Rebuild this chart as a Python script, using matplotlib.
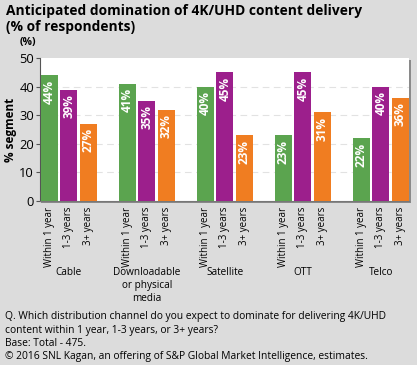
import numpy as np
import matplotlib.pyplot as plt
from matplotlib.patches import Rectangle
from matplotlib.transforms import blended_transform_factory

channels = ['Cable', 'Downloadable\nor physical\nmedia', 'Satellite', 'OTT', 'Telco']
periods = ['Within 1 year', '1-3 years', '3+ years']
within1 = [44, 41, 40, 23, 22]
years13 = [39, 35, 45, 45, 40]
years3p = [27, 32, 23, 31, 36]
colors = ['#5ba44f', '#9c1f8c', '#f07d21']
yticks = [0, 10, 20, 30, 40, 50]

bg = '#dcdcdc'
plt.rcParams['font.family'] = ['Open Sans', 'DejaVu Sans']

fig = plt.figure(figsize=(4.17, 3.65), dpi=100, facecolor=bg)
ax = fig.add_axes([0.095, 0.449, 0.886, 0.392], zorder=1)
ax.set_facecolor('white')

# shadow behind plot area
fig.patches.append(Rectangle((0.095 + 0.004, 0.449 - 0.006), 0.886, 0.392,
                             transform=fig.transFigure, facecolor='#8a8a8a',
                             edgecolor='none', zorder=-1))

series = [within1, years13, years3p]
xpos = []
xlab = []
for i in range(len(channels)):
    for j, vals in enumerate(series):
        x = i * 4 + j
        v = vals[i]
        ax.bar(x, v, width=0.86, color=colors[j], zorder=3)
        ax.text(x, v - 1.5, '%i%%' % v, rotation=90, ha='center', va='top',
                color='white', fontsize=8.5, fontweight='bold', zorder=4)
        xpos.append(x)
        xlab.append(periods[j])

ax.set_xlim(-0.5, 18.45)
ax.set_ylim(0, 50)
ax.set_yticks(yticks)
ax.tick_params(axis='y', labelsize=9.3, length=3, color='#555555', pad=1)
ax.set_xticks(xpos)
ax.set_xticklabels(xlab, rotation=90, fontsize=7)
ax.tick_params(axis='x', length=0, pad=4)
for yv in yticks[1:-1]:
    ax.axhline(yv, color='#e2e2e2', linestyle=(0, (6, 4)), linewidth=0.8, zorder=1)
for s in ['top', 'right']:
    ax.spines[s].set_visible(False)
ax.spines['left'].set_color('#555555')
ax.spines['bottom'].set_color('#777777')
ax.set_ylabel('% segment', fontsize=8.5, fontweight='bold', labelpad=2)

trans = blended_transform_factory(ax.transData, fig.transFigure)
for i, name in enumerate(channels):
    ax.text(i * 4 + 1, 0.268, name, transform=trans, ha='center', va='top',
            fontsize=7.2, linespacing=1.25)

fig.text(0.048, 1 - 43 / 365, '(%)', fontsize=7.5, fontweight='bold', va='center')
fig.text(0.014, 0.99, 'Anticipated domination of 4K/UHD content delivery\n(% of respondents)',
         fontsize=9.9, fontweight='bold', va='top', linespacing=1.2)

notes = ['Q. Which distribution channel do you expect to dominate for delivering 4K/UHD',
         'content within 1 year, 1-3 years, or 3+ years?',
         'Base: Total - 475.',
         '\u00a9 2016 SNL Kagan, an offering of S&P Global Market Intelligence, estimates.']
for k, line in enumerate(notes):
    fig.text(0.012, 1 - (317 + k * 13) / 365, line, fontsize=7.4, va='center')

fig.savefig('out.png', dpi=100, facecolor=bg)
